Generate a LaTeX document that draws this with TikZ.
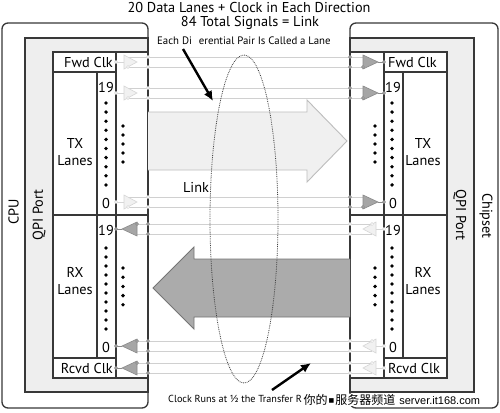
\documentclass[tikz,border=0pt]{standalone}
\usepackage{fontspec}
\setmainfont{PT Sans}
\newfontfamily\cjkf{Noto Sans CJK SC}
\newfontfamily\arialf{Liberation Sans}
\newfontfamily\dejaf{DejaVu Sans}
\usetikzlibrary{arrows.meta}
\definecolor{boxc}{HTML}{383838}
\definecolor{innerc}{HTML}{EEEEEE}
\definecolor{wirec}{HTML}{D0D0D0}
\definecolor{gfill}{HTML}{A6A6A6}
\definecolor{gdraw}{HTML}{8A8A8A}
\definecolor{ffill}{HTML}{F1F1F1}
\definecolor{fdraw}{HTML}{D6D6D6}
\definecolor{txfill}{HTML}{F0F0F0}
\definecolor{txdraw}{HTML}{BDBDBD}
\definecolor{rxfill}{HTML}{ABABAB}
\definecolor{rxdraw}{HTML}{757575}
\tikzset{
  boxl/.style={draw=boxc, line width=1.3pt},
  tbl/.style={draw=boxc, line width=1.1pt},
  wire/.style={draw=wirec, line width=0.9pt},
  gbuf/.style={fill=gfill, draw=gdraw, line width=0.6pt},
  fbuf/.style={fill=ffill, draw=fdraw, line width=0.6pt},
  glead/.style={draw=gdraw, line width=0.9pt},
  flead/.style={draw=fdraw, line width=0.9pt},
  gdot/.style={fill=gfill, draw=gdraw, line width=0.5pt},
  fdot/.style={fill=white, draw=fdraw, line width=0.5pt},
  lbl/.style={inner sep=0pt, font=\fontsize{14.3}{17}\selectfont},
  small/.style={inner sep=0pt, font=\fontsize{10.8}{12}\selectfont},
  pointer/.style={line width=2.4pt, -{Latex[length=10pt,width=9pt]}},
  blackdot/.style={fill=black, draw=none}
}
\newcommand\txlanepair[1]{%
  \begin{scope}[shift={(0,#1)}]
    \draw[wire] (128,-5) -- (363,-5);
    \draw[wire] (128,5) -- (363,5);
    \draw[flead] (116,0) -- (124,0);
    \draw[fbuf] (124,-7) -- (124,7) -- (137,0) -- cycle;
    \draw[fdot] (116,0) circle (1.6);
    \draw[fdot] (128,5) circle (1.6);
    \draw[fdot] (148,-5) circle (1.6);
    \draw[fdot] (148,5) circle (1.6);
    \draw[glead] (378,0) -- (384,0);
    \draw[gbuf] (363,-7) -- (363,7) -- (378,0) -- cycle;
    \draw[gdot] (384,0) circle (1.6);
    \draw[gdot] (363,5) circle (1.6);
    \draw[gdot] (350,-5) circle (1.6);
    \draw[gdot] (350,5) circle (1.6);
  \end{scope}}
\newcommand\rxlanepair[1]{%
  \begin{scope}[shift={(0,#1)}]
    \draw[wire] (137,-5) -- (372,-5);
    \draw[wire] (137,5) -- (372,5);
    \draw[glead] (116,0) -- (122,0);
    \draw[gbuf] (137,-7) -- (137,7) -- (122,0) -- cycle;
    \draw[gdot] (116,0) circle (1.6);
    \draw[gdot] (137,-5) circle (1.6);
    \draw[gdot] (148,-5) circle (1.6);
    \draw[gdot] (148,5) circle (1.6);
    \draw[flead] (376,0) -- (384,0);
    \draw[fbuf] (376,-7) -- (376,7) -- (363,0) -- cycle;
    \draw[fdot] (384,0) circle (1.6);
    \draw[fdot] (372,-5) circle (1.6);
    \draw[fdot] (350,-5) circle (1.6);
    \draw[fdot] (350,5) circle (1.6);
  \end{scope}}
\begin{document}
\begin{tikzpicture}[x=1pt,y=-1pt]
\useasboundingbox (0,0) rectangle (500,412);
\fill[white] (0,0) rectangle (500,412);

% ---------- left (CPU) ----------
\draw[boxl, fill=white, rounded corners=6pt] (2,23) rectangle (148,408);
\draw[boxl, fill=innerc] (25,38) rectangle (148,392);
\draw[tbl, fill=white] (53,52) rectangle (148,378);
\draw[tbl] (116,52) -- (116,378);
\draw[tbl] (97,72) -- (97,358);
\draw[tbl] (53,72) -- (116,72);
\draw[tbl] (53,215) -- (148,215);
\draw[tbl] (53,358) -- (116,358);

% ---------- right (Chipset) ----------
\draw[boxl, fill=white, rounded corners=6pt] (350,23) rectangle (498,408);
\draw[boxl, fill=innerc] (350,38) rectangle (474,392);
\draw[tbl, fill=white] (350,52) rectangle (447,378);
\draw[tbl] (384,52) -- (384,378);
\draw[tbl] (403,72) -- (403,358);
\draw[tbl] (384,72) -- (447,72);
\draw[tbl] (350,215) -- (447,215);
\draw[tbl] (384,358) -- (447,358);

% ---------- dots ----------
\foreach \yy in {103,112.1,...,186} {
  \fill[blackdot] (106,\yy) circle (1.9);
  \fill[blackdot] (392,\yy) circle (1.9);
}
\foreach \yy in {248,257,...,330} {
  \fill[blackdot] (106,\yy) circle (1.9);
  \fill[blackdot] (392,\yy) circle (1.9);
}
\foreach \yy in {126,135,...,163} {
  \fill[blackdot] (123,\yy) circle (1.9);
  \fill[blackdot] (375,\yy) circle (1.9);
}
\foreach \yy in {268,277.2,...,306} {
  \fill[blackdot] (123,\yy) circle (1.9);
  \fill[blackdot] (375,\yy) circle (1.9);
}

% ---------- lanes ----------
\txlanepair{62}
\txlanepair{93}
\txlanepair{202}
\rxlanepair{229}
\rxlanepair{346}
\rxlanepair{368}

% ---------- big arrows ----------
\draw[fill=txfill, draw=txdraw, line width=0.9pt]
  (148,112) -- (307,112) -- (307,100) -- (347,141) -- (307,182) -- (307,170) -- (148,170);
\draw[fill=rxfill, draw=rxdraw, line width=0.9pt]
  (350,259) -- (194,259) -- (194,247) -- (153,288) -- (194,329) -- (194,317) -- (350,317);

% ---------- dotted ellipse ----------
\draw[densely dotted, line width=0.8pt, draw=black!75] (244,219) ellipse [x radius=34, y radius=164];

% ---------- labels ----------
\node[lbl] (t1) at (249,7) {20 Data Lanes + Clock in Each Direction};
\node[lbl] (t2) at (250,23) {84 Total Signals = Link};
\node[small, anchor=west] (each) at (157,41) {Each Di\phantom{ff}erential Pair Is Called a Lane};
\node[lbl] (link) at (196,187) {Link};
\node[small, anchor=west, font=\fontsize{10.2}{12}\selectfont] (clk) at (168,399) {Clock Runs at ½ the Transfer R};

\node[lbl, rotate=90] (cpu) at (13.5,212) {CPU};
\node[lbl, rotate=90] (qpil) at (39,215) {QPI Port};
\node[lbl, rotate=-90] (qpir) at (460,215) {QPI Port};
\node[lbl, rotate=-90] (chip) at (486,216) {Chipset};

\node[lbl, anchor=east] (fwdl) at (113,62) {Fwd Clk};
\node[lbl, anchor=west] (fwdr) at (388,62) {Fwd Clk};
\node[lbl, anchor=east] (rcvl) at (113,368) {Rcvd Clk};
\node[lbl, anchor=west] (rcvr) at (388,368) {Rcvd Clk};
\node[lbl] (l19a) at (106,87) {19};
\node[lbl] (l0a) at (106,203) {0};
\node[lbl] (l19b) at (106,230) {19};
\node[lbl] (l0b) at (106,347) {0};
\node[lbl] (r19a) at (393,87) {19};
\node[lbl] (r0a) at (393,203) {0};
\node[lbl] (r19b) at (393,230) {19};
\node[lbl] (r0b) at (393,347) {0};
\node[lbl, align=center] (txl) at (75,152) {TX\\Lanes};
\node[lbl, align=center] (rxl) at (75,281) {RX\\Lanes};
\node[lbl, align=center] (txr) at (423,152) {TX\\Lanes};
\node[lbl, align=center] (rxr) at (423,281) {RX\\Lanes};

% ---------- pointers ----------
\coordinate (p1s) at (183,49);
\coordinate (p1e) at (213,101);
\draw[pointer] (p1s) -- (p1e);
\coordinate (p2s) at (272,390);
\coordinate (p2e) at (311,363);
\draw[pointer] (p2s) -- (p2e);

% ---------- watermark ----------
\node[fill=white, anchor=west, inner sep=0.5pt] (wm) at (303,400)
  {\cjkf\fontsize{12}{14}\selectfont 你的{\dejaf\fontsize{6}{8}\selectfont\,\raisebox{2.5pt}{■}\,}服务器频道\hspace{4pt}{\arialf\fontsize{11}{13}\selectfont server.it168.com}};
\end{tikzpicture}
\end{document}
